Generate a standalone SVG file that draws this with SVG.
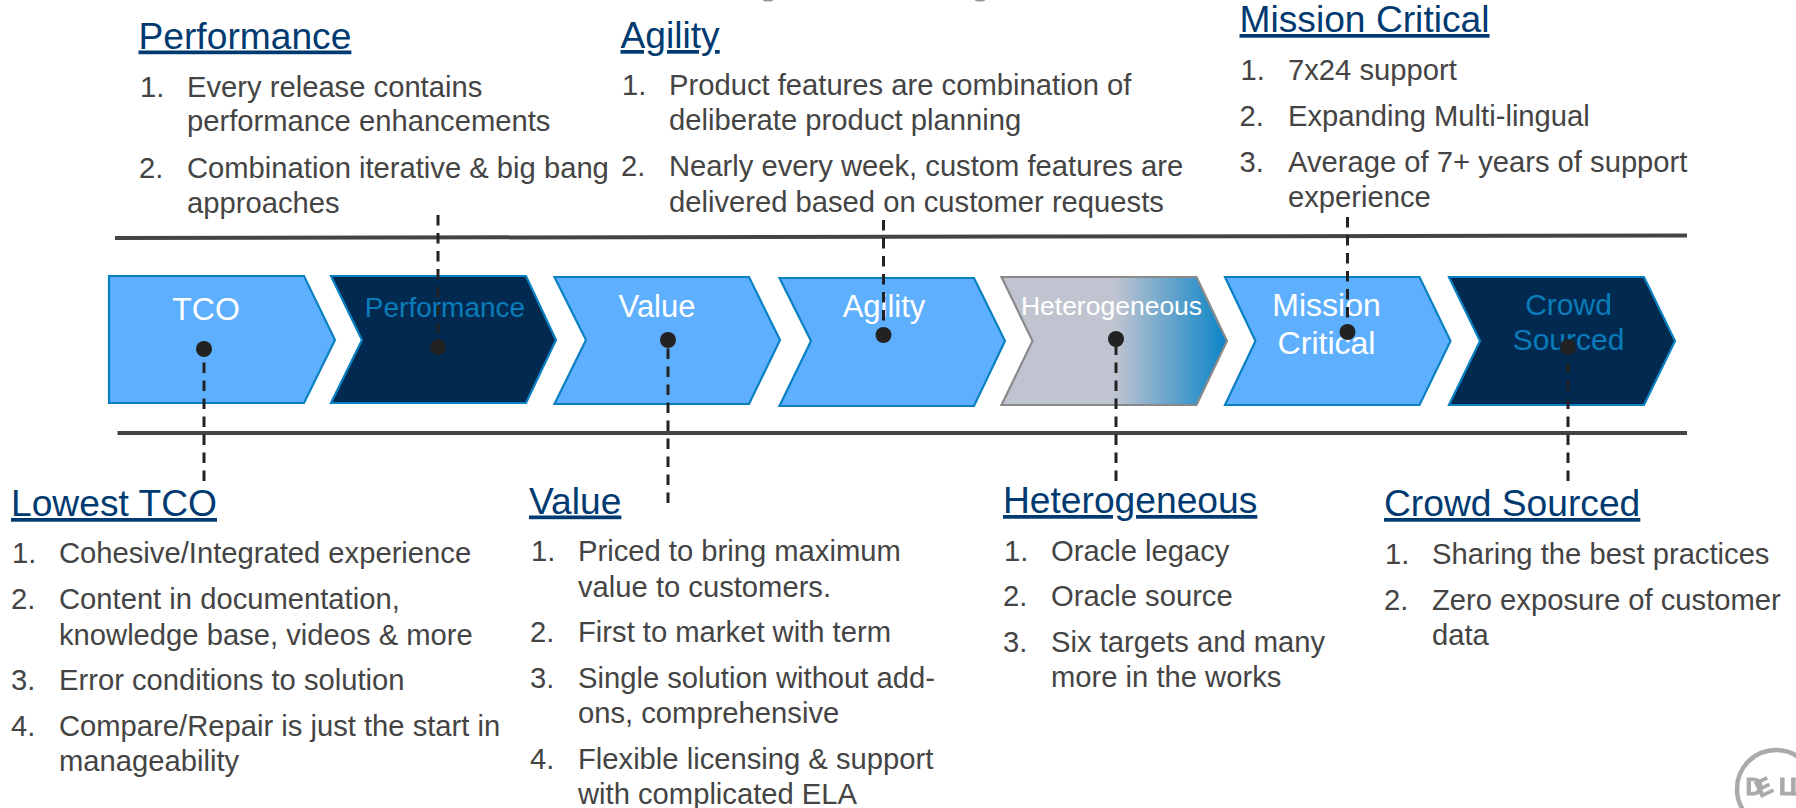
<svg xmlns="http://www.w3.org/2000/svg" width="1796" height="808" viewBox="0 0 1796 808">
<style>
text{font-family:"Liberation Sans",Arial,sans-serif}
.h{font-size:37.2px;fill:#003a70;text-decoration:underline}
.b{font-size:29.2px;fill:#444}
.l{fill:#fff;text-anchor:middle}
.d{fill:#0a7cba;text-anchor:middle}
.c{stroke-width:2.2;stroke:#0a80c2;stroke-linejoin:miter}
.blue{fill:#5eb0ff}
.navy{fill:#022a50}
.rule{stroke:#444;stroke-width:4;fill:none}
.dash{stroke:#222;stroke-width:3;stroke-dasharray:10.5 7.5;fill:none}
.dot{fill:#222}
</style>
<defs>
<linearGradient id="het" gradientUnits="userSpaceOnUse" x1="1002" y1="0" x2="1227" y2="0">
<stop offset="0" stop-color="#c0c4d0"/><stop offset="0.5" stop-color="#c0c4d0"/><stop offset="1" stop-color="#0a84c8"/>
</linearGradient>
<filter id="soft" x="-10%" y="-10%" width="120%" height="120%"><feGaussianBlur stdDeviation="0.6"/></filter>
</defs>
<g id="title-remnant"><ellipse cx="768" cy="0" rx="5" ry="1.5" fill="#999"/><ellipse cx="980" cy="0" rx="5" ry="1.5" fill="#999"/></g>
<g id="rules"><line class="rule" x1="115" y1="238" x2="1687" y2="235.5"/><line class="rule" x1="117.5" y1="433" x2="1687" y2="433"/></g>

<g id="node-tco"><polygon class="c blue" points="109,276 304,276 335,340 304,403 109,403"/><text class="l" x="206" y="320" font-size="32">TCO</text></g>
<g id="node-performance"><polygon class="c navy" points="331,276 526,276 556,340 526,403 331,403 362,340"/><text class="d" x="445" y="317" font-size="28">Performance</text></g>
<g id="node-value"><polygon class="c blue" points="554.5,277 749,277 780,340 749,404 554.5,404 586,340"/><text class="l" x="657" y="317" font-size="31">Value</text></g>
<g id="node-agility"><polygon class="c blue" points="779.5,278 974,278 1005,341 974,406 779.5,406 811,341"/><text class="l" x="884" y="317" font-size="31">Agility</text></g>
<g id="node-heterogeneous"><polygon fill="url(#het)" stroke="#8a8a8a" stroke-width="2.2" points="1001.5,277 1196.5,277 1227,341 1196.5,405 1001.5,405 1032.5,341"/><text class="l" x="1111.5" y="315" font-size="26.5">Heterogeneous</text></g>
<g id="node-mission"><polygon class="c blue" points="1225,277 1419.5,277 1450.5,341 1419.5,405 1225,405 1255.5,341"/><text class="l" x="1326.5" y="316" font-size="32">Mission</text><text class="l" x="1326.5" y="354" font-size="32">Critical</text></g>
<g id="node-crowd"><polygon class="c navy" points="1449,277 1644,277 1675,341 1644,405 1449,405 1480,341"/><text class="d" x="1568.5" y="315" font-size="30">Crowd</text><text class="d" x="1568.5" y="350" font-size="30">Sourced</text></g>

<g id="connectors">
<line class="dash" x1="204" y1="481" x2="204" y2="349"/><circle class="dot" cx="204" cy="349" r="8"/>
<line class="dash" x1="438" y1="215" x2="438" y2="347"/><circle class="dot" cx="438" cy="347" r="8"/>
<line class="dash" x1="668" y1="503" x2="668" y2="340"/><circle class="dot" cx="668" cy="340" r="8"/>
<line class="dash" x1="883.5" y1="220" x2="883.5" y2="335"/><circle class="dot" cx="883.5" cy="335" r="8"/>
<line class="dash" x1="1116" y1="481" x2="1116" y2="339"/><circle class="dot" cx="1116" cy="339" r="8"/>
<line class="dash" x1="1347.5" y1="217" x2="1347.5" y2="332"/><circle class="dot" cx="1347.5" cy="332" r="8"/>
<line class="dash" x1="1568" y1="481" x2="1568" y2="347"/><circle class="dot" cx="1568" cy="347" r="8"/>
</g>

<g id="text-performance"><text class="h" x="138.5" y="48.5">Performance</text>
<text class="b" x="140" y="96.5">1.</text><text class="b" x="187" y="96.5">Every release contains</text><text class="b" x="187" y="131">performance enhancements</text>
<text class="b" x="139" y="177.5">2.</text><text class="b" x="187" y="177.5">Combination iterative &amp; big bang</text><text class="b" x="187" y="212.5">approaches</text></g>
<g id="text-agility"><text class="h" x="620.5" y="48">Agility</text>
<text class="b" x="622" y="95">1.</text><text class="b" x="669" y="95">Product features are combination of</text><text class="b" x="669" y="130">deliberate product planning</text>
<text class="b" x="621" y="176">2.</text><text class="b" x="669" y="176">Nearly every week, custom features are</text><text class="b" x="669" y="211.5">delivered based on customer requests</text></g>
<g id="text-mission"><text class="h" x="1239.5" y="32">Mission Critical</text>
<text class="b" x="1240.5" y="80">1.</text><text class="b" x="1288" y="80">7x24 support</text>
<text class="b" x="1239.5" y="125.5">2.</text><text class="b" x="1288" y="125.5">Expanding Multi-lingual</text>
<text class="b" x="1239.5" y="172">3.</text><text class="b" x="1288" y="172">Average of 7+ years of support</text><text class="b" x="1288" y="207">experience</text></g>
<g id="text-tco"><text class="h" x="11" y="516">Lowest TCO</text>
<text class="b" x="12" y="563">1.</text><text class="b" x="59" y="563">Cohesive/Integrated experience</text>
<text class="b" x="11" y="609">2.</text><text class="b" x="59" y="609">Content in documentation,</text><text class="b" x="59" y="644.5">knowledge base, videos &amp; more</text>
<text class="b" x="11" y="690">3.</text><text class="b" x="59" y="690">Error conditions to solution</text>
<text class="b" x="11" y="736">4.</text><text class="b" x="59" y="736">Compare/Repair is just the start in</text><text class="b" x="59" y="771">manageability</text></g>
<g id="text-value"><text class="h" x="529" y="513.5">Value</text>
<text class="b" x="531" y="561">1.</text><text class="b" x="578" y="561">Priced to bring maximum</text><text class="b" x="578" y="596.5">value to customers.</text>
<text class="b" x="530" y="642">2.</text><text class="b" x="578" y="642">First to market with term</text>
<text class="b" x="530" y="688">3.</text><text class="b" x="578" y="688">Single solution without add-</text><text class="b" x="578" y="723">ons, comprehensive</text>
<text class="b" x="530" y="768.5">4.</text><text class="b" x="578" y="768.5">Flexible licensing &amp; support</text><text class="b" x="578" y="803.5">with complicated ELA</text></g>
<g id="text-heterogeneous"><text class="h" x="1003" y="513">Heterogeneous</text>
<text class="b" x="1004" y="561">1.</text><text class="b" x="1051" y="561">Oracle legacy</text>
<text class="b" x="1003" y="606">2.</text><text class="b" x="1051" y="606">Oracle source</text>
<text class="b" x="1003" y="652">3.</text><text class="b" x="1051" y="652">Six targets and many</text><text class="b" x="1051" y="687">more in the works</text></g>
<g id="text-crowd"><text class="h" x="1384" y="516">Crowd Sourced</text>
<text class="b" x="1385" y="564">1.</text><text class="b" x="1432" y="564">Sharing the best practices</text>
<text class="b" x="1384" y="609.5">2.</text><text class="b" x="1432" y="609.5">Zero exposure of customer</text><text class="b" x="1432" y="645">data</text></g>

<g id="logo" filter="url(#soft)"><circle cx="1776" cy="789" r="39" fill="none" stroke="#aaa" stroke-width="4.5"/><text x="1745.5 1760 1779 1790" y="795 798 795 795" font-size="24" font-weight="bold" fill="#aaa" stroke="#aaa" stroke-width="0.9" rotate="0 -25 0 0">DELL</text></g>
</svg>
